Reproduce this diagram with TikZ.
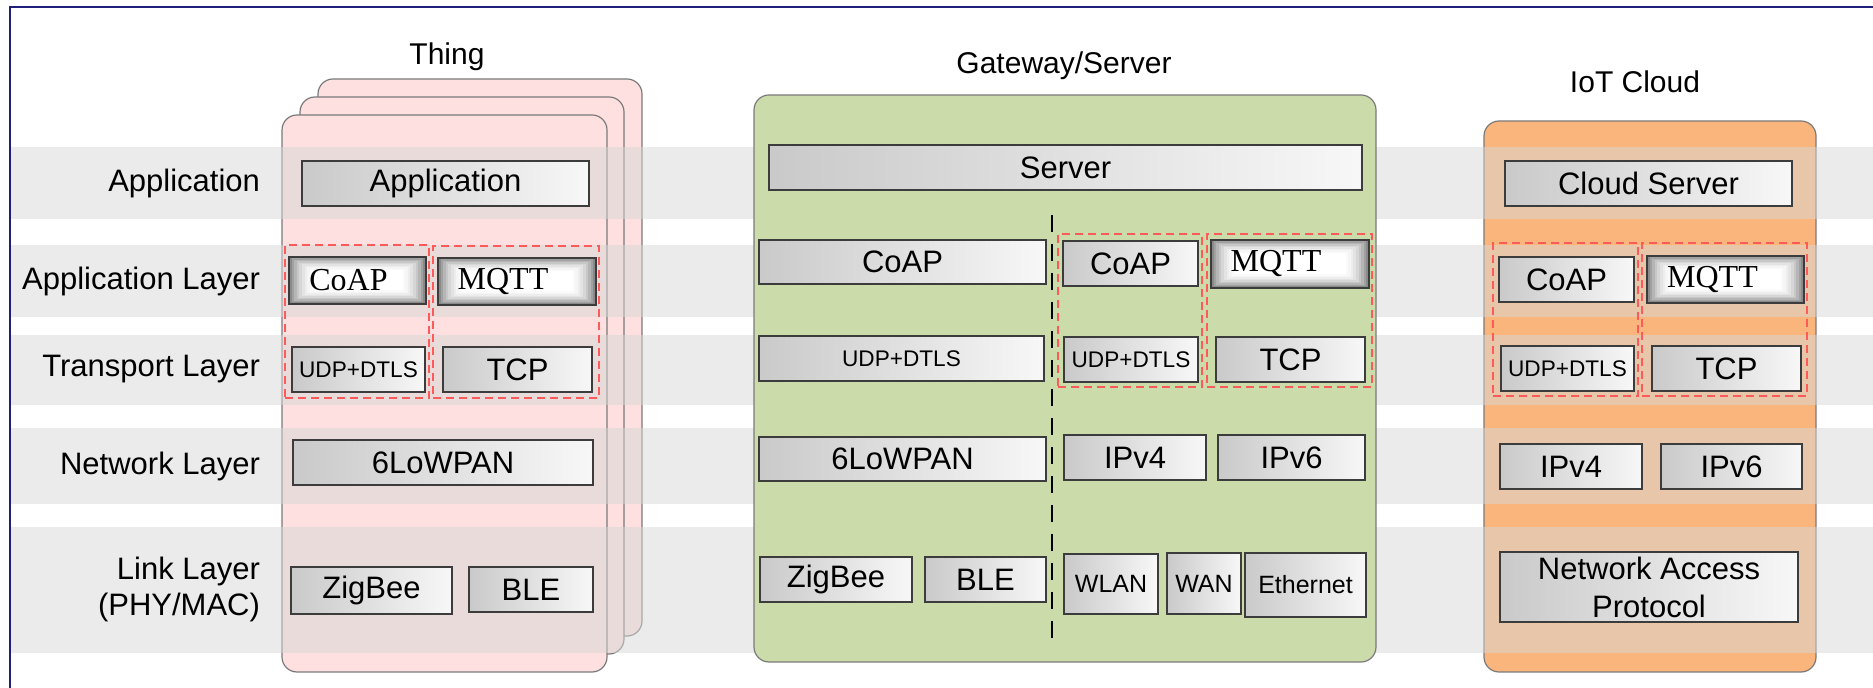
\documentclass[tikz,border=0pt]{standalone}
\usepackage{fontspec}
\setmainfont{Liberation Sans}
\newfontfamily\serifnm{Liberation Serif}

\definecolor{navy}{HTML}{1F1F78}
\definecolor{pinkbox}{HTML}{FFE0E0}
\definecolor{greenbox}{HTML}{CCDBAA}
\definecolor{orangebox}{HTML}{F9B57C}
\definecolor{boxedge}{HTML}{7A7A7A}
\definecolor{bandgray}{HTML}{D7D7D7}
\definecolor{reddash}{HTML}{FF5A5A}
\definecolor{protoedge}{HTML}{3C3C3C}

\tikzset{
  device/.style={draw=boxedge, line width=0.6pt, rounded corners=7.5pt, inner sep=0pt},
  band/.style={fill=bandgray, fill opacity=0.5, draw=none},
  proto/.style={draw=protoedge, line width=0.7pt,
    left color=black!21, right color=black!3,
    inner sep=0pt, align=center, font=\fontsize{15.5}{19}\selectfont},
  small/.style={font=\fontsize{11.3}{13}\selectfont},
  mid/.style={font=\fontsize{12.5}{14}\selectfont},
  glow/.style={draw=protoedge, line width=0.7pt, inner sep=0pt,
    font=\serifnm\fontsize{16}{18}\selectfont,
    path picture={
      \foreach \k/\gl in {0/46,1/37,2/29,3/22,4/16,5/11,6/7,7/4,8/2,9/0}{
        \fill[black!\gl] ([shift={(\k*1.3pt,\k*0.75pt)}]path picture bounding box.south west)
          rectangle ([shift={(-\k*1.3pt,-\k*0.75pt)}]path picture bounding box.north east);
      }
    }},
  group/.style={draw=reddash, dash pattern=on 4pt off 2.5pt, line width=0.7pt, inner sep=0pt},
  layerlabel/.style={anchor=east, align=right, font=\fontsize{15.5}{18}\selectfont},
  header/.style={font=\fontsize{15}{18}\selectfont},
  divider/.style={draw=black, line width=1.4pt, dash pattern=on 8.5pt off 6pt},
  frame/.style={draw=navy, line width=1.2pt},
  box/.style n args={4}{minimum width={(#3-#1)*0.5pt}, minimum height={(#4-#2)*0.5pt},
    at={({(#1+#3)/2},{(#2+#4)/2})}},
}

\newcommand\pbox[7][]{\node[proto,#1,box={#3}{#4}{#5}{#6}] (#2) {#7};}
\newcommand\gbox[6]{\node[glow,box={#2}{#3}{#4}{#5}] (#1) {#6};}
\newcommand\grp[5]{\node[group,box={#2}{#3}{#4}{#5}] (#1) {};}
\newcommand\dev[6]{\node[device,fill=#2,box={#3}{#4}{#5}{#6}] (#1) {};}

\begin{document}
\begin{tikzpicture}[x=0.5pt,y=-0.5pt]
\useasboundingbox (0,0) rectangle (1873,688);

% devices under the bands
\dev{thing3}{pinkbox}{318}{79}{642}{636}
\dev{thing2}{pinkbox}{300}{97}{624}{654}
\dev{thing1}{pinkbox}{282}{115}{607}{672}
\dev{cloud}{orangebox}{1484}{121}{1816}{672}

% layer bands
\fill[band] (10,147) rectangle (1873,219);
\fill[band] (10,245) rectangle (1873,317);
\fill[band] (10,335) rectangle (1873,405);
\fill[band] (10,428) rectangle (1873,504);
\fill[band] (10,527) rectangle (1873,653);

% gateway box on top of bands
\dev{gateway}{greenbox}{754}{95}{1376}{662}

% frame
\coordinate (fA) at (10,688);
\coordinate (fB) at (10,7);
\coordinate (fC) at (1873,7);
\draw[frame] (fA) -- (fB) -- (fC);

% headers
\node[header] (hThing) at (447,57) {Thing};
\node[header] (hGate) at (1064,66) {Gateway/Server};
\node[header] (hCloud) at (1635,82) {IoT Cloud};

% layer labels
\node[layerlabel] (lApp) at (267,183) {Application};
\node[layerlabel] (lAppL) at (267,281) {Application Layer};
\node[layerlabel] (lTr) at (267,369) {Transport Layer};
\node[layerlabel] (lNet) at (267,466) {Network Layer};
\node[layerlabel] (lLink) at (267,589) {Link Layer\\(PHY/MAC)};

% Thing
\pbox{tApp}{302}{161}{589}{206}{Application}
\grp{tG1}{285}{245}{429}{398}
\grp{tG2}{433}{246}{599}{398}
\gbox{tCoAP}{289}{257}{426}{304}{CoAP\kern9pt}
\gbox{tMQTT}{438}{258}{596}{305}{MQTT\kern14pt}
\pbox[small]{tUDP}{292}{347}{425}{392}{UDP+DTLS}
\pbox{tTCP}{443}{347}{592}{392}{TCP}
\pbox{t6Lo}{293}{440}{593}{485}{6LoWPAN}
\pbox{tZig}{291}{567}{452}{614}{ZigBee}
\pbox{tBLE}{469}{567}{593}{612}{BLE}

% Gateway
\pbox{gServer}{769}{145}{1362}{190}{Server}
\pbox{gCoAPl}{759}{240}{1046}{284}{CoAP}
\pbox[small]{gUDPl}{759}{336}{1044}{381}{UDP+DTLS}
\pbox{g6Lo}{759}{437}{1046}{481}{6LoWPAN}
\pbox{gZig}{760}{557}{912}{602}{ZigBee}
\pbox{gBLE}{925}{557}{1046}{602}{BLE}
\coordinate (dTop) at (1052,215);
\coordinate (dBot) at (1052,645);
\draw[divider] (dTop) -- (dBot);
\grp{gG1}{1058}{234}{1202}{387}
\grp{gG2}{1207}{234}{1372}{387}
\pbox{gCoAPr}{1063}{241}{1198}{286}{CoAP}
\gbox{gMQTT}{1211}{240}{1369}{288}{MQTT\kern14pt}
\pbox[small]{gUDPr}{1064}{337}{1198}{382}{UDP+DTLS}
\pbox{gTCP}{1216}{337}{1365}{382}{TCP}
\pbox{gIPv4}{1064}{435}{1206}{480}{IPv4}
\pbox{gIPv6}{1218}{435}{1365}{480}{IPv6}
\pbox[mid]{gWLAN}{1064}{554}{1158}{614}{WLAN}
\pbox[mid]{gWAN}{1167}{553}{1241}{614}{WAN}
\pbox[mid]{gEth}{1245}{553}{1366}{617}{Ethernet}

% Cloud
\pbox{cServer}{1505}{161}{1792}{206}{Cloud Server}
\grp{cG1}{1493}{243}{1638}{396}
\grp{cG2}{1642}{243}{1807}{396}
\pbox{cCoAP}{1499}{257}{1634}{302}{CoAP}
\gbox{cMQTT}{1647}{256}{1804}{303}{MQTT\kern13pt}
\pbox[small]{cUDP}{1501}{346}{1634}{391}{UDP+DTLS}
\pbox{cTCP}{1652}{346}{1801}{391}{TCP}
\pbox{cIPv4}{1500}{444}{1642}{489}{IPv4}
\pbox{cIPv6}{1661}{444}{1802}{489}{IPv6}
\pbox{cNAP}{1500}{552}{1798}{622}{Network Access\\Protocol}
\end{tikzpicture}
\end{document}
